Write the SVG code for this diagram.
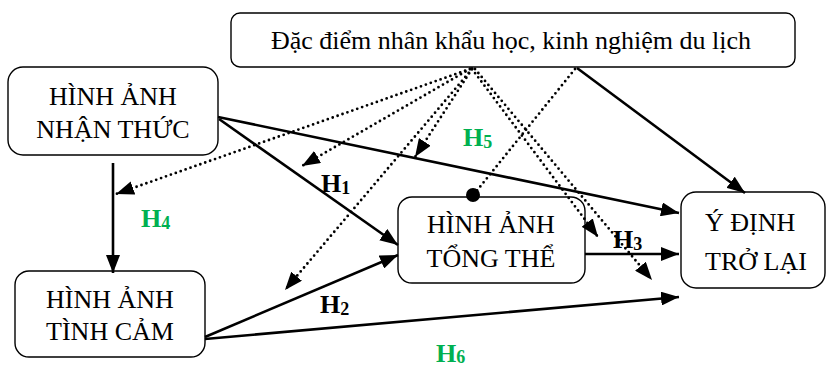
<svg xmlns="http://www.w3.org/2000/svg" width="827" height="370" viewBox="0 0 827 370">
<defs>
<style>
.box{fill:#fff;stroke:#000;stroke-width:1.4}
.t{font-family:"Liberation Serif","Times New Roman",serif;font-size:26px;fill:#000}
.solid{stroke:#000;stroke-width:2.6;fill:none}
.dot{stroke:#000;stroke-width:2.8;fill:none;stroke-dasharray:0 5.2;stroke-linecap:round}
.lb{font-family:"Liberation Serif","Times New Roman",serif;font-size:26px;font-weight:bold;fill:#000}
.g{fill:#00B050}
.sub{font-size:18px}
</style>
<marker id="ah" markerUnits="userSpaceOnUse" markerWidth="20" markerHeight="14" refX="18" refY="7" orient="auto" viewBox="0 0 20 14">
<path d="M0,0 L18,7 L0,14 z" fill="#000"/>
</marker>
</defs>
<g id="top">
<rect class="box" x="231" y="13" width="564" height="54" rx="9"/>
<text class="t" x="511" y="49" text-anchor="middle">Đặc điểm nhân khẩu học, kinh nghiệm du lịch</text>
</g>
<g id="nhan-thuc">
<rect class="box" x="8" y="67" width="210" height="88" rx="15"/>
<text class="t" x="113" y="105" text-anchor="middle">HÌNH ẢNH</text>
<text class="t" x="113" y="138" text-anchor="middle">NHẬN THỨC</text>
</g>
<g id="tinh-cam">
<rect class="box" x="15" y="271" width="190" height="86" rx="14"/>
<text class="t" x="110" y="308" text-anchor="middle">HÌNH ẢNH</text>
<text class="t" x="110" y="340" text-anchor="middle">TÌNH CẢM</text>
</g>
<g id="tong-the">
<rect class="box" x="398" y="197" width="187" height="86" rx="14"/>
<text class="t" x="491" y="233" text-anchor="middle">HÌNH ẢNH</text>
<text class="t" x="491" y="267" text-anchor="middle">TỔNG THỂ</text>
</g>
<g id="y-dinh">
<rect class="box" x="681" y="192" width="144" height="96" rx="15"/>
<text class="t" x="705" y="231">Ý ĐỊNH</text>
<text class="t" x="705" y="270">TRỞ LẠI</text>
</g>
<g id="connectors">
<line class="solid" x1="218" y1="117" x2="679" y2="213" marker-end="url(#ah)"/>
<line class="solid" x1="219" y1="119" x2="398" y2="245" marker-end="url(#ah)"/>
<line class="solid" x1="205" y1="337" x2="398" y2="255" marker-end="url(#ah)"/>
<line class="solid" x1="205" y1="339" x2="679" y2="297" marker-end="url(#ah)"/>
<line class="solid" x1="585" y1="254" x2="679" y2="254" marker-end="url(#ah)"/>
<line class="solid" x1="577" y1="68" x2="745" y2="193" marker-end="url(#ah)"/>
<line class="solid" x1="113" y1="163" x2="113" y2="273" marker-end="url(#ah)"/>
<line class="dot" x1="470" y1="69" x2="116" y2="194" marker-end="url(#ah)"/>
<line class="dot" x1="470" y1="69" x2="302" y2="166" marker-end="url(#ah)"/>
<line class="dot" x1="472" y1="69" x2="415" y2="157" marker-end="url(#ah)"/>
<line class="dot" x1="472" y1="69" x2="285" y2="290" marker-end="url(#ah)"/>
<line class="dot" x1="472" y1="69" x2="598" y2="237" marker-end="url(#ah)"/>
<line class="dot" x1="475" y1="69" x2="652" y2="280" marker-end="url(#ah)"/>
<line class="dot" x1="575" y1="69" x2="475" y2="193"/>
<circle cx="473" cy="195" r="7" fill="#000"/>
</g>
<g id="labels">
<text class="lb" x="321" y="192">H<tspan class="sub" dy="2">1</tspan></text>
<text class="lb" x="320" y="313">H<tspan class="sub" dy="2">2</tspan></text>
<text class="lb" x="613" y="248">H<tspan class="sub" dy="2">3</tspan></text>
<text class="lb g" x="141" y="227">H<tspan class="sub" dy="2">4</tspan></text>
<text class="lb g" x="463" y="146">H<tspan class="sub" dy="2">5</tspan></text>
<text class="lb g" x="436" y="362">H<tspan class="sub" dy="1">6</tspan></text>
</g>
</svg>
